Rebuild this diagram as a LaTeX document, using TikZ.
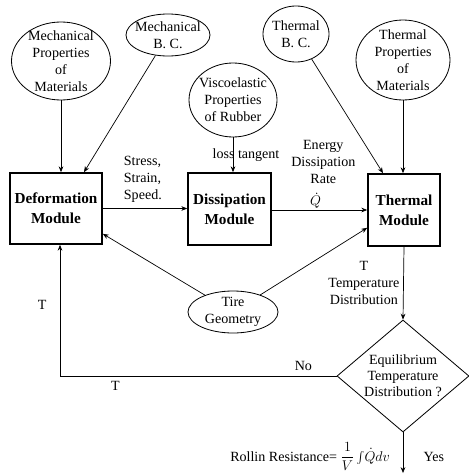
\documentclass[tikz,border=0pt]{standalone}
\usepackage{fontspec}
\setmainfont{Liberation Serif}
\usetikzlibrary{shapes.geometric,positioning,arrows.meta}

\newcommand{\lblfont}{\fontsize{12}{14.4}\selectfont}

\begin{document}
\begin{tikzpicture}[x=0.03cm, y=-0.03cm, ->, >={Stealth[length=5pt,width=4pt]}, line width=0.6pt,
		prop/.style={ellipse, draw, line width=0.7pt, inner sep=0pt},
		proptext/.style={align=center, font=\lblfont, inner sep=0pt},
		module/.style={rectangle, draw, line width=1.4pt, align=center, font=\fontsize{13}{17}\selectfont\bfseries},
		check/.style={diamond, draw, line width=0.7pt, inner sep=0pt},
		lbl/.style={align=center, font=\lblfont}]
	\useasboundingbox (0,0) rectangle (468,474);

	\node[prop, minimum width=2.97cm, minimum height=2.34cm, label={[proptext]center:Mechanical\\Properties\\of\\Materials}] (mechprop) at (61,61) {};
	\node[prop, minimum width=2.52cm, minimum height=1.26cm, label={[proptext]center:Mechanical\\B. C.}] (mechbc) at (168,35) {};
	\node[prop, minimum width=2.64cm, minimum height=2.22cm, label={[proptext]center:Viscoelastic\\Properties\\of Rubber}] (viscprop) at (233,100) {};
	\node[prop, minimum width=1.98cm, minimum height=1.68cm, label={[proptext]center:Thermal\\B. C.}] (thermbc) at (296,34) {};
	\node[prop, minimum width=2.82cm, minimum height=2.4cm, label={[proptext]center:Thermal\\Properties\\of\\Materials}] (thermprop) at (403,60) {};

	\node[module, minimum width=2.76cm, minimum height=2.13cm] (deform) at (56,208.5) {Deformation\\Module};
	\node[module, minimum width=2.49cm, minimum height=2.16cm] (dissip) at (229.5,209) {Dissipation\\Module};
	\node[module, minimum width=2.16cm, minimum height=2.16cm] (thermmod) at (404,210) {Thermal\\Module};

	\node[prop, minimum width=2.7cm, minimum height=1.26cm, label={[proptext]center:Tire\\Geometry}] (tire) at (233,312) {};
	\node[check, minimum width=3.96cm, minimum height=3.36cm, label={[proptext, font=\fontsize{12}{13.5}\selectfont]center:Equilibrium\\Temperature\\Distribution ?}] (equil) at (403,376) {};
	\coordinate (stop) at (403,473);

	\path (mechprop.south) edge (mechprop.south |- deform.north);
	\path (mechbc) edge ([xshift=0.84cm]deform.north);
	\path (viscprop.south) edge node[lbl, xshift=0.39cm] {loss tangent} (viscprop.south |- dissip.north);
	\path (thermbc) edge ([xshift=-0.63cm]thermmod.north);
	\path (thermprop.south) edge (thermprop.south |- thermmod.north);

	\path (deform.east) edge node[lbl, pos=0.18, above right=2pt, align=left] {Stress,\\Strain,\\Speed.} (deform.east -| dissip.west);
	\path (dissip.east |- thermmod.west) edge node[lbl, pos=0.54, above=19pt] {Energy\\Dissipation\\Rate} node[lbl, pos=0.46, above=0pt, inner sep=1pt] {$\dot{Q}$} (thermmod.west);

	\path (tire) edge ([yshift=0.33cm]deform.south east);
	\path (tire) edge ([yshift=0.57cm]thermmod.south west);

	\path (thermmod.south) edge node[lbl, left] {T\\Temperature\\Distribution} (equil.north);
	\draw (equil.west) -| node[lbl, pos=0.06, above=1pt] {No} node[lbl, pos=0.4, below=1pt] {T} node[lbl, pos=0.77, left=8pt] {T} ([xshift=0.12cm]deform.south);
	\draw (equil.south) -- node[lbl, pos=0.6, left=10pt, inner sep=1pt] {Rollin Resistance= $\displaystyle\frac{1}{V}\textstyle\int\!\dot{Q}dv$} node[lbl, pos=0.6, right=14pt] {Yes} (stop);
\end{tikzpicture}
\end{document}
